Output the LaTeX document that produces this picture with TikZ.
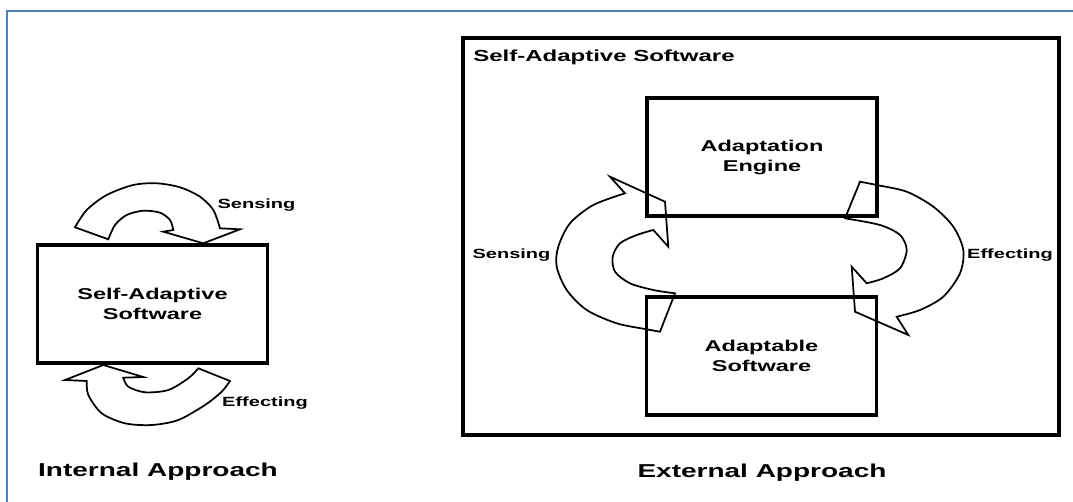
\documentclass[tikz,border=0pt]{standalone}
\usepackage{fontspec}
\setmainfont{Liberation Sans}[FakeStretch=1.5]
\definecolor{frameblue}{RGB}{79,129,189}

\begin{document}
\begin{tikzpicture}[x=0.75pt, y=-0.75pt,
    box/.style={draw, line width=2.5pt, minimum width=172.5pt, minimum height=88.5pt, align=center, font=\fontsize{11.75}{15}\selectfont\bfseries},
    lbl/.style={font=\fontsize{10}{12}\selectfont\bfseries},
    title/.style={font=\fontsize{14}{17}\selectfont\bfseries},
    blockarrow/.style={draw, line width=1.3pt, line join=miter}]
    \useasboundingbox (0,0) rectangle (1073,502);

    % 枠を描く
    \draw[frameblue, line width=1.5pt] (7,503) -- (7,11) -- (1074,11);
    \node[draw, line width=2.5pt, minimum width=447pt, minimum height=297.75pt] (outer) at (761,236.5) {};
    \node[anchor=west, inner sep=0pt, font=\fontsize{12}{14}\selectfont\bfseries] (outerlbl) at (473,57) {Self-Adaptive Software};

    % 箱を置く
    \node[box] (SAS) at (152.5,304) {Self-Adaptive\\Software};
    \node[box] (AE) at (762,157) {Adaptation\\Engine};
    \node[box] (AS) at (761.5,356) {Adaptable\\Software};

    % 矢印を描く
    \draw[blockarrow] (203.3,243.3) -- (163.3,231.7) -- plot[smooth] coordinates {(173.3,230) (170,220) (160,212.7) (143.3,210.7) (126.7,215) (115,225) (108.3,239.3)} -- plot[smooth] coordinates {(75,227.3) (86.7,210) (106.7,195) (133.3,185) (156.7,183.3) (180,187.3) (200,196.7) (213.3,210) (220,228.3)} -- (240,229.3) -- cycle;
    \draw[blockarrow] (103.3,365) -- (143.3,377) -- plot[smooth] coordinates {(123.3,377.7) (128.3,386.7) (145,392.3) (168.3,390) (188.3,378.3) (198.3,368.3)} -- plot[smooth] coordinates {(230,381) (221.7,391.7) (205,405) (178.3,420) (151.7,425) (125,423.3) (101.7,413.3) (88.3,395) (86.7,381)} -- (65,380) -- cycle;
    \draw[blockarrow] (675,293.3) -- plot[smooth] coordinates {(660,331.7) (646.7,329.3) (616.7,323.3) (586.7,310) (566.7,290) (556.7,266.7) (558.3,246.7) (570,223.3) (593.3,205) (625,193.3)} -- (610,176.7) -- (665,201.7) -- (668.3,246.7) -- plot[smooth] coordinates {(653.3,230) (636.7,235) (620,243.3) (612.7,256.7) (615,271.7) (630,283.3) (653.3,290) (675,293.3)} -- cycle;
    \draw[blockarrow] (845,218.3) -- plot[smooth] coordinates {(860,181.7) (876.7,185) (906.7,191.7) (933.3,206.7) (953.3,226.7) (963.3,250) (960,273.3) (943.3,296.7) (920,310) (896.7,316.7)} -- (908.3,335) -- (855,311.7) -- (851.7,266.7) -- plot[smooth] coordinates {(866.7,283.3) (883.3,278.3) (900,268.3) (906.7,250) (900,235) (880,225) (845,218.3)} -- cycle;

    % ラベルを書く
    \node[lbl] (senseL) at (256.5,205) {Sensing};
    \node[lbl] (effectL) at (265,403) {Effecting};
    \node[lbl] (senseR) at (511.5,255) {Sensing};
    \node[lbl] (effectR) at (1010,255) {Effecting};
    \node[title] (internal) at (158,472) {Internal Approach};
    \node[title] (external) at (762,473) {External Approach};
\end{tikzpicture}
\end{document}
